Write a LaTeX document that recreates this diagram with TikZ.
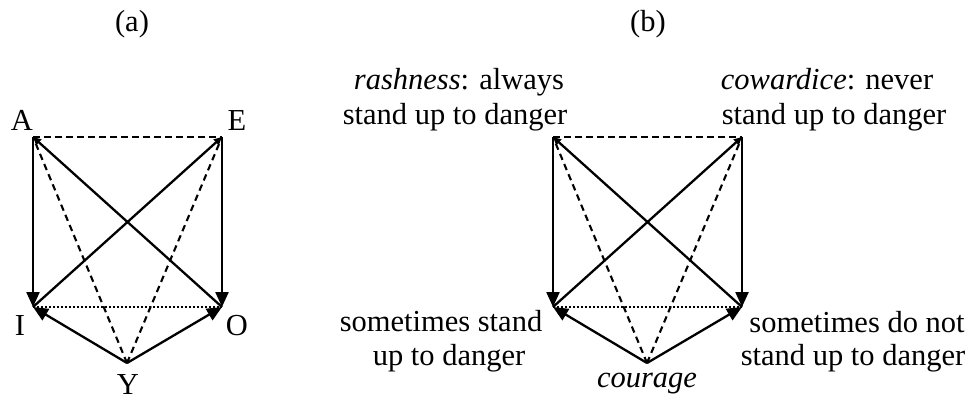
\documentclass[tikz,border=0pt]{standalone}
\usepackage{fontspec}
\setmainfont{Liberation Serif}
\usetikzlibrary{arrows.meta}
\begin{document}
\begin{tikzpicture}[x=1pt,y=-1pt,
  lab/.style={anchor=base,inner sep=0pt,font=\fontsize{30.5}{34}\selectfont},
  mainarrow/.style={line width=2.3pt,-{Triangle[length=15pt,width=13pt]}},
  diagline/.style={line width=2.3pt,-{Triangle[length=8pt,width=7.5pt]}},
  dashline/.style={line width=2.1pt,dash pattern=on 6.5pt off 4.5pt},
  dotline/.style={line width=2pt,dash pattern=on 2pt off 2pt}]
\useasboundingbox (0,0) rectangle (968,399);
\foreach \p/\dx in {a/0,b/520}{
  \coordinate (\p A) at (33+\dx,137);
  \coordinate (\p E) at (222+\dx,137);
  \coordinate (\p I) at (33+\dx,307);
  \coordinate (\p O) at (222+\dx,307);
  \coordinate (\p Y) at (127+\dx,363);
  \draw[dashline] (\p A) -- (\p E);
  \draw[dashline] (\p Y) -- (\p A);
  \draw[dashline] (\p Y) -- (\p E);
  \draw[dotline] (\p I) -- (\p O);
  \draw[diagline] (\p O) -- (\p A);
  \draw[diagline] (\p I) -- (\p E);
  \draw[mainarrow] (\p A) -- (\p I);
  \draw[mainarrow] (\p E) -- (\p O);
  \draw[mainarrow] (\p Y) -- (\p I);
  \draw[mainarrow] (\p Y) -- (\p O);
}
% (a) labels
\node[lab] (ta) at (132,31) {(a)};
\node[lab] (la) at (22,130) {A};
\node[lab] (le) at (237,130) {E};
\node[lab] (li) at (20,335) {I};
\node[lab] (lo) at (237,335) {O};
\node[lab] (ly) at (128,394) {Y};
% (b) labels
\node[lab] (tb) at (648,31) {(b)};
\node[lab] (r1) at (459,89) {\textit{rashness}: always};
\node[lab] (r2) at (455,124) {stand up to danger};
\node[lab] (c1) at (827,89) {\textit{cowardice}: never};
\node[lab] (c2) at (834,124) {stand up to danger};
\node[lab] (s1) at (441,331) {sometimes stand};
\node[lab] (s2) at (449,365) {up to danger};
\node[lab] (d1) at (857,332) {sometimes do not};
\node[lab] (d2) at (853,365) {stand up to danger};
\node[lab] (cg) at (647,387) {\textit{courage}};
\end{tikzpicture}
\end{document}
